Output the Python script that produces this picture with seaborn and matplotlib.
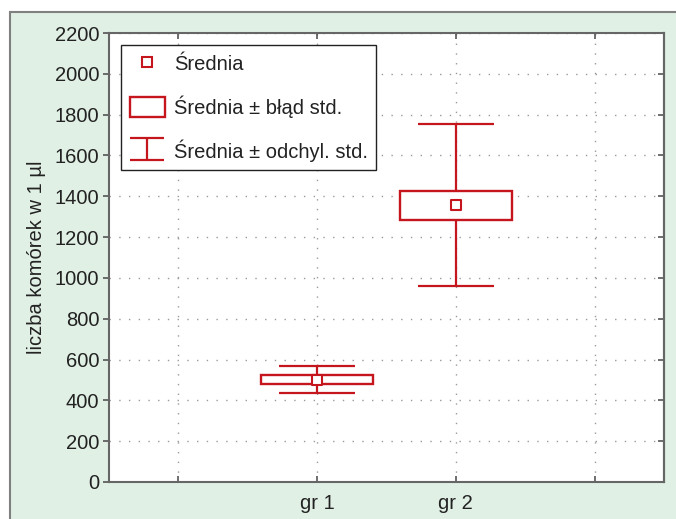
import numpy as np
import matplotlib.pyplot as plt
import seaborn as sns
from matplotlib.patches import Rectangle, Patch
from matplotlib.lines import Line2D
from matplotlib.path import Path

# values
groups = ["gr 1", "gr 2"]
means = [502, 1357]
std_err = [20, 71]
std_dev = [66, 395]
y_ticks = [0, 200, 400, 600, 800, 1000, 1200, 1400, 1600, 1800, 2000, 2200]

RED = "#c4161c"
GREEN_BG = "#e1f0e5"
TEXT = "#222222"
FS = 14.5

sns.set_theme(style="ticks")
plt.rcParams["font.family"] = ["Liberation Sans", "DejaVu Sans"]
plt.rcParams["text.color"] = TEXT
plt.rcParams["axes.labelcolor"] = TEXT
plt.rcParams["xtick.color"] = "#555555"
plt.rcParams["ytick.color"] = "#555555"
plt.rcParams["xtick.labelcolor"] = TEXT
plt.rcParams["ytick.labelcolor"] = TEXT

fig = plt.figure(figsize=(6.76, 5.19), dpi=100, facecolor="white")
# light green panel with a grey frame behind everything
fig.add_artist(Rectangle((10 / 676, -0.02), 1.0, 0.9769 + 0.02, transform=fig.transFigure,
                         facecolor=GREEN_BG, edgecolor="#808080", linewidth=1.5, zorder=-10))
ax = fig.add_axes([0.1612, 0.0713, 0.8210, 0.8651])
ax.set_facecolor("white")

x = np.arange(len(groups)) + 1
means_a = np.array(means)
se_a = np.array(std_err)
sd_a = np.array(std_dev)

# mean +/- SD whiskers
ax.errorbar(x, means_a, yerr=sd_a, fmt="none", ecolor=RED, elinewidth=1.6,
            capsize=27.7, capthick=1.6, zorder=3)
# mean +/- SE boxes
ax.bar(x, 2 * se_a, bottom=means_a - se_a, width=0.81, facecolor="white",
       edgecolor=RED, linewidth=1.7, zorder=4)
# means
sns.scatterplot(x=x, y=means_a, marker="s", s=48, color="white", edgecolor=RED,
                linewidth=1.5, zorder=5, ax=ax, legend=False)

ax.set_xlim(-0.5, 3.5)
ax.set_ylim(0, 2200)
ax.set_xticks([0, 1, 2, 3])
ax.set_xticklabels([""] + groups + [""])
ax.set_yticks(y_ticks)
ax.tick_params(axis="both", labelsize=FS)
ax.tick_params(axis="y", direction="out", length=4, width=1.2, pad=3)
ax.tick_params(axis="x", direction="in", length=4, width=1.2, top=True, pad=9)
ax.grid(True, color="#9a9a9a", linestyle=(0, (1, 6)), linewidth=1.0)
ax.set_axisbelow(True)
for side in ["left", "bottom", "top", "right"]:
    ax.spines[side].set_visible(True)
    ax.spines[side].set_color("#666666")
    ax.spines[side].set_linewidth(1.5)

sec = ax.secondary_yaxis("right")
sec.set_yticks(y_ticks)
sec.tick_params(direction="in", length=4, width=1.2, labelright=False, color="#555555")
sec.spines["right"].set_color("#666666")
sec.spines["right"].set_linewidth(1.5)

ax.set_ylabel("liczba komórek w 1 µl", fontsize=FS, labelpad=6)
ax.set_xlabel("")

# legend with custom handles
i_shape = Path([(-1, 0.64), (1, 0.64), (0, 0.64), (0, -0.64), (-1, -0.64), (1, -0.64)],
               [Path.MOVETO, Path.LINETO, Path.MOVETO, Path.LINETO, Path.MOVETO, Path.LINETO])
handles = [
    Line2D([], [], marker="s", linestyle="none", markersize=7, markerfacecolor="white",
           markeredgecolor=RED, markeredgewidth=1.5),
    Patch(facecolor="white", edgecolor=RED, linewidth=1.7),
    Line2D([], [], marker=i_shape, linestyle="none", markersize=24, markerfacecolor="none",
           markeredgecolor=RED, markeredgewidth=1.6),
]
labels = ["Średnia", "Średnia ± błąd std.", "Średnia ± odchyl. std."]
leg = ax.legend(handles, labels, loc="upper left", fontsize=FS, frameon=True, fancybox=False,
                framealpha=1, edgecolor="#222222", handlelength=1.75, handleheight=1.15,
                handletextpad=0.45, labelspacing=1.05, borderpad=0.42, borderaxespad=0.6)
leg.get_frame().set_linewidth(1.0)
leg.set_zorder(10)

fig.savefig("out.png", dpi=100, facecolor=fig.get_facecolor())
